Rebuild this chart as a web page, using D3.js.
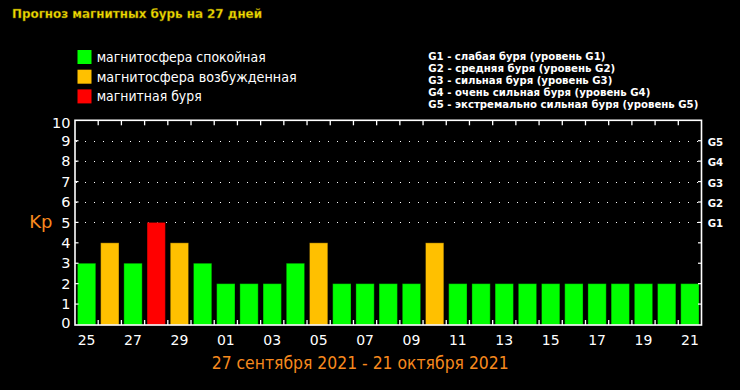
<!DOCTYPE html>
<html><head><meta charset="utf-8">
<script src="https://cdn.jsdelivr.net/npm/d3@7"></script>
<style>html,body{margin:0;padding:0;background:#000;}svg{display:block;}</style>
</head><body>
<svg id="chart" width="740" height="390"></svg>
<script>
const title = "Прогноз магнитных бурь на 27 дней";
const dateRange = "27 сентября 2021 - 21 октября 2021";
const days = ["25","26","27","28","29","30","01","02","03","04","05","06","07","08","09","10","11","12","13","14","15","16","17","18","19","20","21"];
const kpValues = [3,4,3,5,4,3,2,2,2,3,4,2,2,2,2,4,2,2,2,2,2,2,2,2,2,2,2];
const yTicks = [0,1,2,3,4,5,6,7,8,9,10];
const gridLevels = [5,6,7,8,9];
const gLabels = ["G1","G2","G3","G4","G5"];
const legendLabels = ["магнитосфера спокойная","магнитосфера возбужденная","магнитная буря"];
const legendColors = ["#00ff00","#ffc000","#ff0000"];
const gLegend = ["G1 - слабая буря (уровень G1)","G2 - средняя буря (уровень G2)","G3 - сильная буря (уровень G3)","G4 - очень сильная буря (уровень G4)","G5 - экстремально сильная буря (уровень G5)"];
const gLegendWidths = [177,187,184,222,270];
const legendWidths = [169,200,105];

const svg = d3.select("#chart");
svg.append("rect").attr("width",740).attr("height",390).attr("fill","#000");

const L = 75, R = 701.5, T = 120.3, B = 324.5;
const x = d3.scaleBand().domain(days).range([L,R]).paddingInner(0.21).paddingOuter(0.105);
const xs = d3.scaleBand().domain(days).range([L,R]).padding(0);
const y = d3.scaleLinear().domain([0,10]).range([B,T]);
const colorOf = v => v >= 5 ? legendColors[2] : (v === 4 ? legendColors[1] : legendColors[0]);

// title
svg.append("text").attr("x",12).attr("y",17.5).text(title)
  .attr("font-family","DejaVu Sans, Verdana, sans-serif").attr("font-weight","bold")
  .attr("font-size",13).attr("fill","#f2dc00").attr("stroke","#6b5f00").attr("stroke-width",0.4)
  .attr("textLength",250).attr("lengthAdjust","spacingAndGlyphs");

// legend
const lg = svg.append("g");
legendLabels.forEach((t,i)=>{
  lg.append("rect").attr("x",77.5).attr("y",50+i*19.7).attr("width",14).attr("height",14).attr("fill",legendColors[i]);
  lg.append("text").attr("x",96.7).attr("y",62+i*19.6).text(t)
    .attr("font-family","DejaVu Sans, Verdana, sans-serif").attr("font-size",14).attr("fill","#fff")
    .attr("textLength",legendWidths[i]).attr("lengthAdjust","spacingAndGlyphs");
});
gLegend.forEach((t,i)=>{
  svg.append("text").attr("x",428.3).attr("y",59.5+i*12).text(t)
    .attr("font-family","DejaVu Sans, Verdana, sans-serif").attr("font-weight","bold").attr("font-size",11).attr("fill","#fff")
    .attr("textLength",gLegendWidths[i]).attr("lengthAdjust","spacingAndGlyphs");
});

// dotted grid
svg.append("g").selectAll("line").data(gridLevels).join("line")
  .attr("x1",L+1).attr("x2",R-1).attr("y1",d=>Math.round(y(d))+0.5).attr("y2",d=>Math.round(y(d))+0.5)
  .attr("stroke","#fff").attr("stroke-width",1).attr("stroke-dasharray","1 8").attr("stroke-dashoffset",-9);

// bars
svg.append("g").selectAll("rect").data(kpValues).join("rect")
  .attr("x",(d,i)=>x(days[i])).attr("width",x.bandwidth())
  .attr("y",d=>y(d)).attr("height",d=>B - y(d) + 0.5)
  .attr("fill",d=>colorOf(d)).attr("stroke","rgba(0,0,0,0.35)").attr("stroke-width",1);

// frame
svg.append("rect").attr("x",L).attr("y",T).attr("width",R-L).attr("height",B+0.5-T)
  .attr("fill","none").attr("stroke","#fff").attr("stroke-width",1.6);

// top/bottom boundary ticks
const bounds = days.slice(1).map(d=>xs(d));
svg.append("g").selectAll("line").data(bounds).join("line")
  .attr("x1",d=>d).attr("x2",d=>d).attr("y1",T).attr("y2",T+5).attr("stroke","#fff").attr("stroke-width",1.3);
svg.append("g").selectAll("line").data(bounds).join("line")
  .attr("x1",d=>d).attr("x2",d=>d).attr("y1",B+0.5).attr("y2",B-4.5).attr("stroke","#fff").attr("stroke-width",1.3);
// side ticks
const inner = yTicks.slice(1,-1);
svg.append("g").selectAll("line").data(inner).join("line")
  .attr("x1",L).attr("x2",L+3.5).attr("y1",d=>y(d)).attr("y2",d=>y(d)).attr("stroke","#fff").attr("stroke-width",1.2);
svg.append("g").selectAll("line").data(inner).join("line")
  .attr("x1",R).attr("x2",R-3.5).attr("y1",d=>y(d)).attr("y2",d=>y(d)).attr("stroke","#fff").attr("stroke-width",1.2);

// y labels
svg.append("g").selectAll("text").data(yTicks).join("text")
  .attr("x",70.5).attr("y",d=>y(d) + (d===0 ? -2 : (d===10 ? 2 : 0))).attr("dy","0.36em").attr("text-anchor","end")
  .text(d=>d).attr("font-family","DejaVu Sans, Verdana, sans-serif").attr("font-size",14.5).attr("fill","#fff");

// G labels on right
svg.append("g").selectAll("text").data(gLabels).join("text")
  .attr("x",707.7).attr("y",(d,i)=>y(gridLevels[i])+1).attr("dy","0.36em")
  .text(d=>d).attr("font-family","DejaVu Sans, Verdana, sans-serif").attr("font-weight","bold").attr("font-size",11).attr("fill","#fff")
  .attr("textLength",15.5).attr("lengthAdjust","spacingAndGlyphs");

// Kp
svg.append("text").attr("x",29.3).attr("y",228.3).text("Kp")
  .attr("font-family","DejaVu Sans, Verdana, sans-serif").attr("font-size",18).attr("fill","#f7891e");

// x labels
const shown = days.filter((d,i)=>i%2===0);
svg.append("g").selectAll("text").data(shown).join("text")
  .attr("x",d=>x(d)+x.bandwidth()/2).attr("y",345).attr("text-anchor","middle")
  .text(d=>d).attr("font-family","DejaVu Sans, Verdana, sans-serif").attr("font-size",14).attr("fill","#fff");

// date range
svg.append("text").attr("x",211.7).attr("y",369).text(dateRange)
  .attr("font-family","DejaVu Sans Condensed, Liberation Sans Narrow, sans-serif").attr("font-size",17).attr("fill","#f7891e")
  .attr("textLength",297).attr("lengthAdjust","spacingAndGlyphs");
</script>
</body></html>
